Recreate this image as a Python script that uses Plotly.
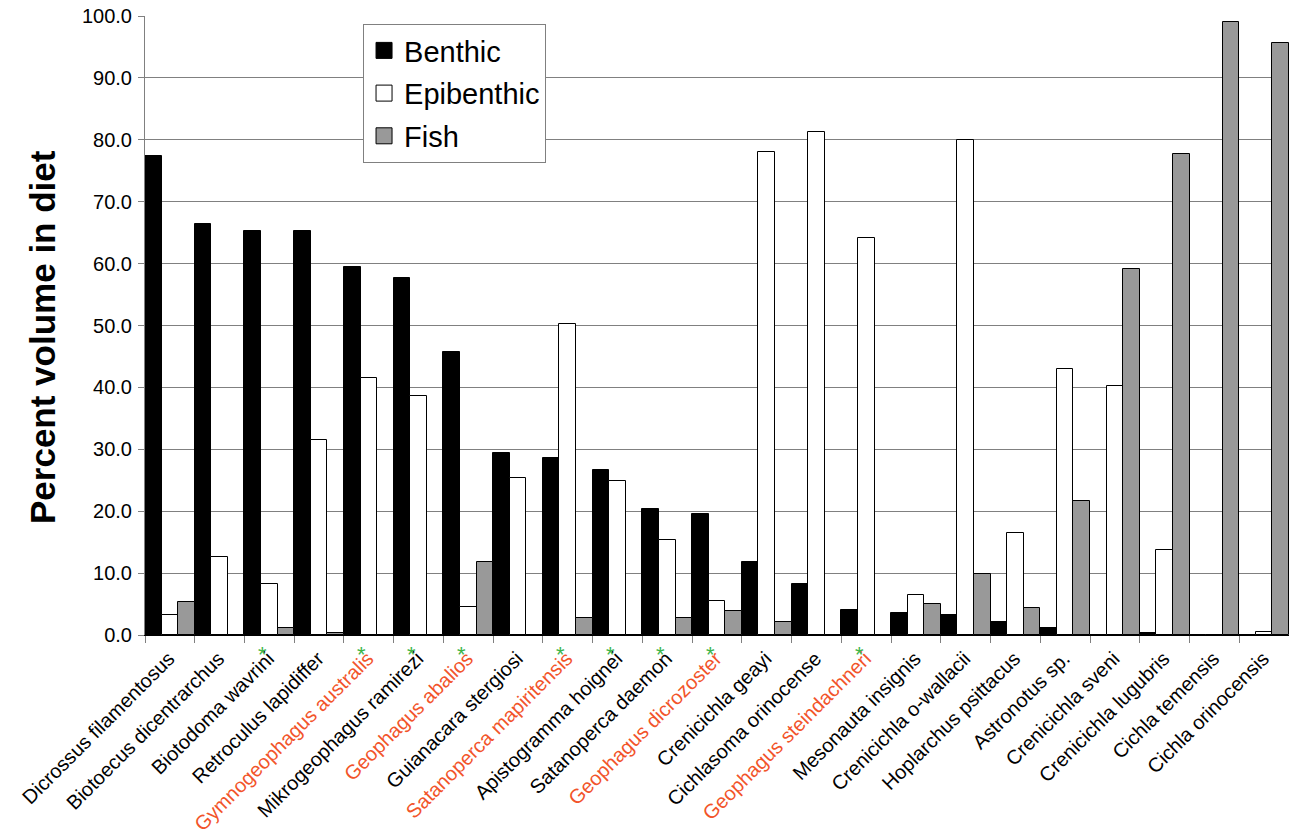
import plotly.graph_objects as go

species = [
    "Dicrossus filamentosus", "Biotoecus dicentrarchus", "Biotodoma wavrini",
    "Retroculus lapidiffer", "Gymnogeophagus australis", "Mikrogeophagus ramirezi",
    "Geophagus abalios", "Guianacara stergiosi", "Satanoperca mapiritensis",
    "Apistogramma hoignei", "Satanoperca daemon", "Geophagus dicrozoster",
    "Crenicichla geayi", "Cichlasoma orinocense", "Geophagus steindachneri",
    "Mesonauta insignis", "Crenicichla o-wallacii", "Hoplarchus psittacus",
    "Astronotus sp.", "Crenicichla sveni", "Crenicichla lugubris",
    "Cichla temensis", "Cichla orinocensis",
]
highlighted = ["Gymnogeophagus australis", "Geophagus abalios", "Satanoperca mapiritensis",
               "Geophagus dicrozoster", "Geophagus steindachneri"]
starred = ["Biotodoma wavrini", "Gymnogeophagus australis", "Mikrogeophagus ramirezi",
           "Geophagus abalios", "Satanoperca mapiritensis", "Apistogramma hoignei",
           "Satanoperca daemon", "Geophagus dicrozoster", "Geophagus steindachneri"]

benthic = [77.4, 66.4, 65.3, 65.3, 59.5, 57.7, 45.8, 29.4, 28.6, 26.7, 20.4, 19.5,
           11.8, 8.2, 4.1, 3.6, 3.3, 2.1, 1.1, 0, 0.3, 0, 0]
epibenthic = [3.3, 12.6, 8.3, 31.5, 41.6, 38.6, 4.6, 25.4, 50.2, 24.8, 15.3, 5.5,
              78.0, 81.3, 64.1, 6.5, 80.0, 16.5, 43.0, 40.2, 13.7, 0, 0.5]
fish = [5.3, 0, 1.1, 0.25, 0, 0, 11.8, 0, 2.7, 0, 2.8, 3.8,
        2.1, 0, 0, 5.0, 9.9, 4.4, 21.7, 59.2, 77.7, 99.0, 95.7]

ORANGE = "#f2542a"
GREEN = "#3cb54a"
FONT = "Liberation Sans, Arial, sans-serif"


def label(name):
    if name in highlighted:
        return f'<span style="color:{ORANGE}">{name}</span>'
    return name


ticktext = [label(s) for s in species]

fig = go.Figure()
series = [("Benthic", benthic, "#000000"), ("Epibenthic", epibenthic, "#ffffff"),
          ("Fish", fish, "#999999")]
for name, vals, col in series:
    fig.add_trace(go.Bar(
        x=species, y=vals, name=name, showlegend=False,
        marker=dict(color=col, line=dict(color="#000000", width=1)),
    ))
    fig.add_trace(go.Scatter(
        x=[None], y=[None], mode="markers", name=name, legendgroup=name,
        marker=dict(symbol="square", size=19, color=col,
                    line=dict(color="#000000", width=1)),
    ))

annotations = [dict(
    text="<b>Percent volume in diet</b>", textangle=-90,
    xref="paper", yref="paper", x=(42 - 145) / 1144, y=(635 - 337) / 619,
    xanchor="center", yanchor="middle", showarrow=False,
    font=dict(size=35, family=FONT, color="#000000"),
)]
for s in starred:
    annotations.append(dict(
        text="*", x=s, xref="x", y=0, yref="y", xshift=-7, yshift=-19,
        xanchor="center", yanchor="middle", showarrow=False,
        font=dict(size=22, family=FONT, color=GREEN),
    ))

fig.update_layout(
    width=1289, height=837,
    margin=dict(l=145, r=0, t=16, b=202),
    plot_bgcolor="white", paper_bgcolor="white",
    barmode="group", bargap=0, bargroupgap=0,
    font=dict(family=FONT, color="#000000", size=19),
    legend=dict(
        x=0.1906, y=0.987, xanchor="left", yanchor="top",
        bordercolor="#808080", borderwidth=1, bgcolor="white",
        font=dict(size=29, family=FONT), itemwidth=30,
        tracegroupgap=2,
    ),
    xaxis=dict(
        tickmode="array", tickvals=species, ticktext=ticktext,
        tickangle=-45, tickson="boundaries", ticks="outside", ticklen=7,
        tickcolor="#808080", showline=True, linecolor="#000000", linewidth=1,
        showgrid=False, automargin=False, tickfont=dict(size=20, family=FONT),
        ticklabelstandoff=3, ticklabelshift=-1,
        range=[-0.5, 22.5],
    ),
    yaxis=dict(
        range=[0, 100], dtick=10, tickformat=".1f",
        ticks="outside", ticklen=6, tickcolor="#808080",
        showline=True, linecolor="#808080", linewidth=1,
        showgrid=True, gridcolor="#808080", gridwidth=1,
        zeroline=False, automargin=False, tickfont=dict(size=20, family=FONT),
        ticklabelstandoff=2,
    ),
    annotations=annotations,
)

fig.write_html("out.html", config={"displayModeBar": False},
               post_script="document.body.style.margin='0';")
